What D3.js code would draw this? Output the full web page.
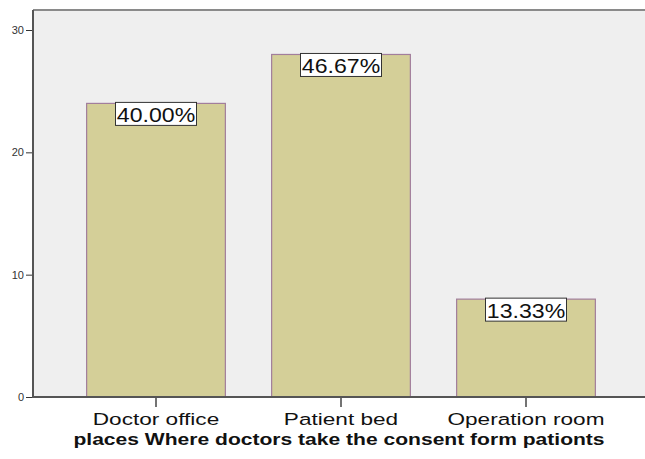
<html>
<head>
<script src="https://d3js.org/d3.v7.min.js"></script>
<style>
  body { margin: 0; background: #fff; }
  text { font-family: "Liberation Sans", Arial, sans-serif; }
</style>
</head>
<body>
<svg id="chart" width="645" height="459"></svg>
<script>
// data
const places = ["Doctor office", "Patient bed", "Operation room"];
const counts = [24, 28, 8];
const percents = ["40.00%", "46.67%", "13.33%"];
const yTicks = [0, 10, 20, 30];
const xTitle = "places Where doctors take the consent form pationts";

const svg = d3.select("#chart");
const plot = { left: 33, top: 10, right: 645, bottom: 397 };

let y = d3.scaleLinear().domain([0, 30]).range([397, 30]);
let x = d3.scaleBand()
  .domain(places)
  .range([63.5, 618.5])
  .paddingInner(0.25)
  .paddingOuter(0.125);

// plot background
svg.append("rect")
  .attr("x", plot.left).attr("y", plot.top)
  .attr("width", plot.right - plot.left).attr("height", plot.bottom - plot.top)
  .attr("fill", "#efefef");
svg.append("line")
  .attr("x1", plot.left).attr("x2", plot.right)
  .attr("y1", plot.top).attr("y2", plot.top)
  .attr("stroke", "#8a8a8a").attr("stroke-width", 2);

// bars
let data = places.map((p, i) => ({ place: p, count: counts[i], pct: percents[i] }));
let bars = svg.selectAll("g.bar").data(data).enter().append("g").attr("class", "bar");

bars.append("rect")
  .attr("x", d => x(d.place))
  .attr("y", d => y(d.count))
  .attr("width", x.bandwidth())
  .attr("height", d => y(0) - y(d.count))
  .attr("fill", "#d4cf98")
  .attr("stroke", "#a27e9c")
  .attr("stroke-width", 1.2);

// percentage labels in white boxes
bars.append("rect")
  .attr("x", d => x(d.place) + x.bandwidth() / 2 - 40.5)
  .attr("y", d => y(d.count) - 1)
  .attr("width", 81).attr("height", 23)
  .attr("fill", "#fff").attr("stroke", "#333").attr("stroke-width", 1);
bars.append("text")
  .attr("transform", d => `translate(${x(d.place) + x.bandwidth() / 2},${y(d.count) + 19}) scale(1.1,1)`)
  .attr("text-anchor", "middle")
  .attr("font-size", 21)
  .attr("fill", "#111")
  .text(d => d.pct);

// y axis
let yAxis = svg.append("g")
  .attr("transform", `translate(${plot.left},0)`)
  .call(d3.axisLeft(y).tickValues(yTicks).tickSize(7).tickPadding(2));
yAxis.select(".domain").remove();
yAxis.selectAll("line").attr("stroke", "#333");
yAxis.selectAll("text").attr("font-size", 11).attr("fill", "#333")
  .style("font-family", "Liberation Sans, Arial, sans-serif");
svg.append("line")
  .attr("x1", plot.left).attr("x2", plot.left)
  .attr("y1", plot.top).attr("y2", plot.bottom)
  .attr("stroke", "#555").attr("stroke-width", 2);

// x axis
let xAxis = svg.append("g")
  .attr("transform", `translate(0,${plot.bottom})`)
  .call(d3.axisBottom(x).tickSize(10));
xAxis.select(".domain").remove();
xAxis.selectAll("line").attr("stroke", "#444").attr("stroke-width", 1.5);
xAxis.selectAll("text")
  .attr("y", 28).attr("dy", null)
  .attr("transform", "scale(1.33,1)")
  .attr("font-size", 17).attr("fill", "#111")
  .style("font-family", "Liberation Sans, Arial, sans-serif");
svg.append("line")
  .attr("x1", plot.left - 1).attr("x2", plot.right)
  .attr("y1", plot.bottom).attr("y2", plot.bottom)
  .attr("stroke", "#555").attr("stroke-width", 2);

// x title
svg.append("text")
  .attr("transform", "translate(339,445) scale(1.24,1)")
  .attr("text-anchor", "middle")
  .attr("font-size", 17).attr("font-weight", "bold").attr("fill", "#111")
  .text(xTitle);
</script>
</body>
</html>
